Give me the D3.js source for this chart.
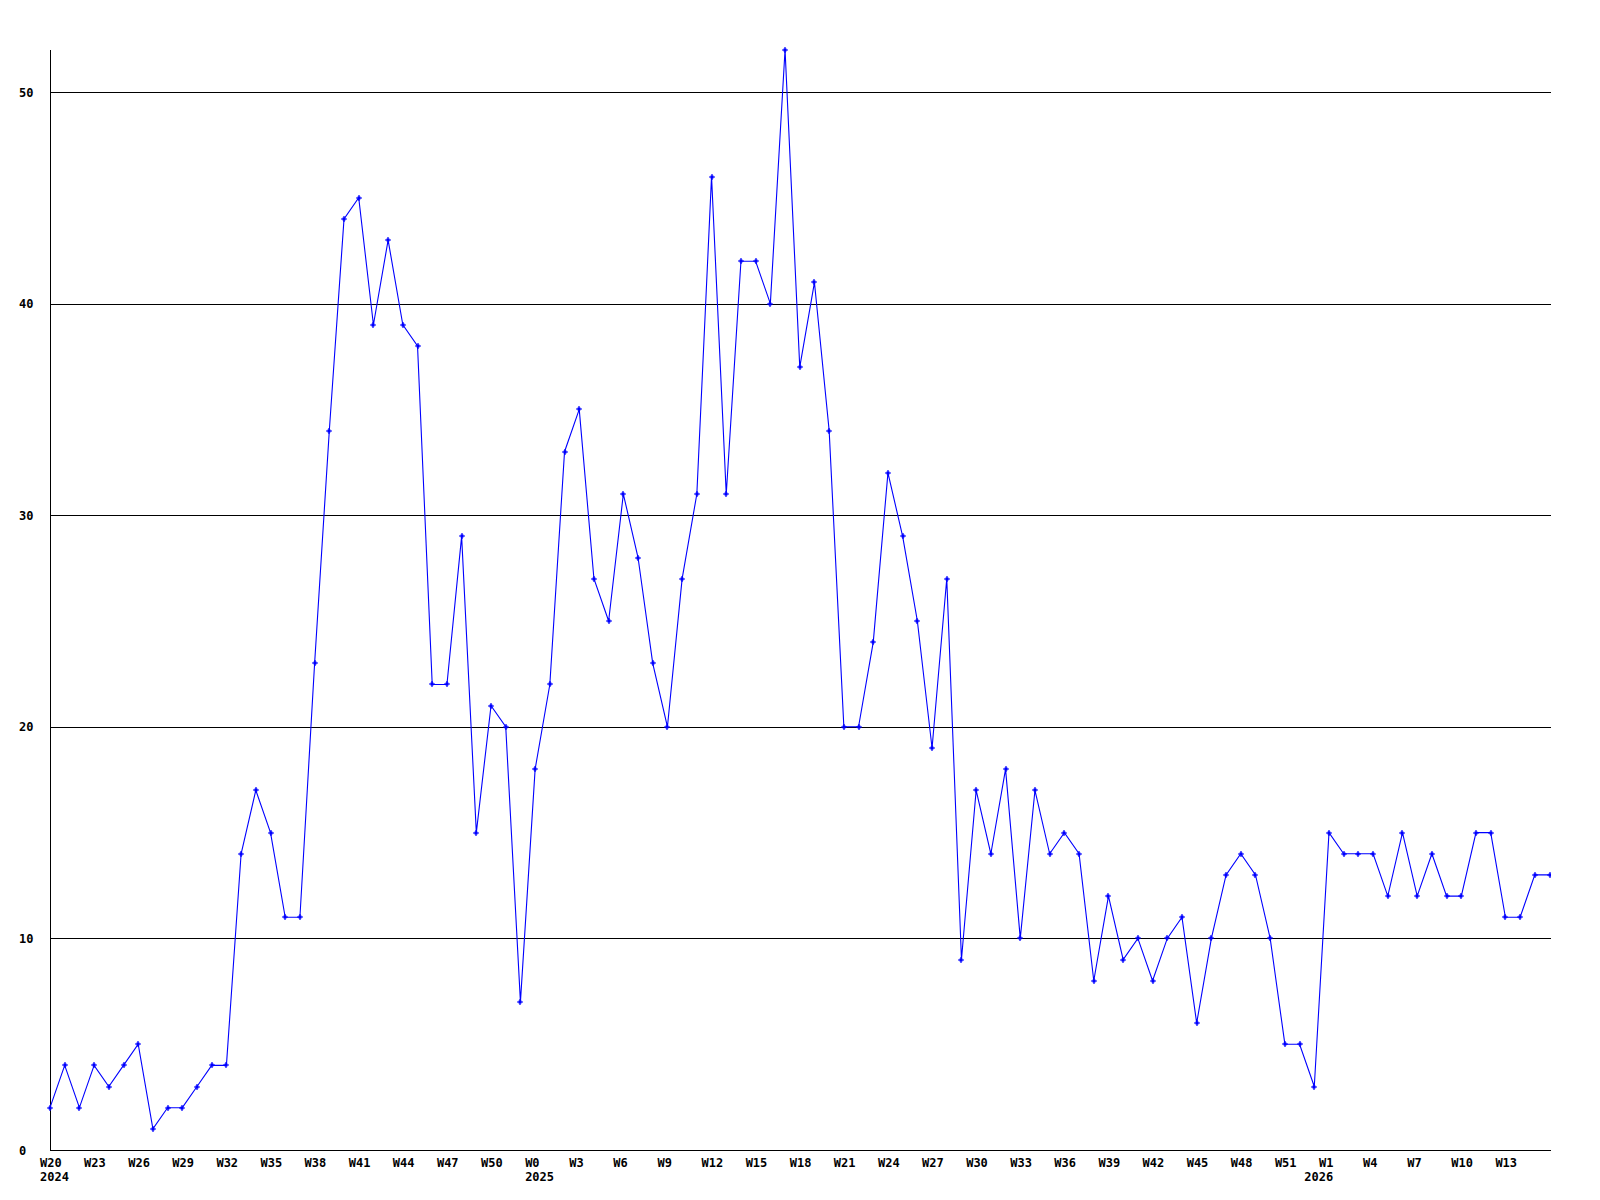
<!DOCTYPE html>
<html>
<head>
<meta charset="utf-8">
<script src="https://cdn.jsdelivr.net/npm/d3@7"></script>
<style>
  html, body { margin: 0; padding: 0; background: #fff; }
  svg { display: block; }
  text { font-family: "DejaVu Sans Mono", "Liberation Mono", monospace; font-weight: bold; font-size: 12px; fill: #000; }
</style>
</head>
<body>
<svg id="chart" width="1600" height="1200"></svg>
<script>
const weeks = [
  "2024-W20","2024-W21","2024-W22","2024-W23","2024-W24","2024-W25","2024-W26","2024-W27","2024-W28","2024-W29",
  "2024-W30","2024-W31","2024-W32","2024-W33","2024-W34","2024-W35","2024-W36","2024-W37","2024-W38","2024-W39",
  "2024-W40","2024-W41","2024-W42","2024-W43","2024-W44","2024-W45","2024-W46","2024-W47","2024-W48","2024-W49",
  "2024-W50","2024-W51","2024-W52",
  "2025-W0","2025-W1","2025-W2","2025-W3","2025-W4","2025-W5","2025-W6","2025-W7","2025-W8","2025-W9",
  "2025-W10","2025-W11","2025-W12","2025-W13","2025-W14","2025-W15","2025-W16","2025-W17","2025-W18","2025-W19",
  "2025-W20","2025-W21","2025-W22","2025-W23","2025-W24","2025-W25","2025-W26","2025-W27","2025-W28","2025-W29",
  "2025-W30","2025-W31","2025-W32","2025-W33","2025-W34","2025-W35","2025-W36","2025-W37","2025-W38","2025-W39",
  "2025-W40","2025-W41","2025-W42","2025-W43","2025-W44","2025-W45","2025-W46","2025-W47","2025-W48","2025-W49",
  "2025-W50","2025-W51","2025-W52",
  "2026-W0","2026-W1","2026-W2","2026-W3","2026-W4","2026-W5","2026-W6","2026-W7","2026-W8","2026-W9",
  "2026-W10","2026-W11","2026-W12","2026-W13","2026-W14","2026-W15","2026-W16"
];

const values = [
  2,4,2,4,3,4,5,1,2,2,
  3,4,4,14,17,15,11,11,23,34,
  44,45,39,43,39,38,22,22,29,15,
  21,20,7,18,22,33,35,27,25,31,
  28,23,20,27,31,46,31,42,42,40,
  52,37,41,34,20,20,24,32,29,25,
  19,27,9,17,14,18,10,17,14,15,
  14,8,12,9,10,8,10,11,6,10,
  13,14,13,10,5,5,3,15,14,14,
  14,12,15,12,14,12,12,15,15,11,
  11,13,13
];

const xTickWeeks = [
  "2024-W20","2024-W23","2024-W26","2024-W29","2024-W32","2024-W35","2024-W38","2024-W41","2024-W44","2024-W47","2024-W50",
  "2025-W0","2025-W3","2025-W6","2025-W9","2025-W12","2025-W15","2025-W18","2025-W21","2025-W24","2025-W27","2025-W30",
  "2025-W33","2025-W36","2025-W39","2025-W42","2025-W45","2025-W48","2025-W51",
  "2026-W1","2026-W4","2026-W7","2026-W10","2026-W13"
];

const yearLabels = ["2024", "2025", "2026"];

const yTicks = [0, 10, 20, 30, 40, 50];

const svg = d3.select("#chart");
svg.append("rect").attr("width", 1600).attr("height", 1200).attr("fill", "#fff");

const plotLeft = 50, plotRight = 1551, plotTop = 50, plotBottom = 1150;

const x = d3.scaleLinear().domain([0, weeks.length - 1]).range([50, 1549.5]);
const y = d3.scaleLinear().domain([0, 50]).range([plotBottom, 92]);

// gridlines
svg.append("g")
  .selectAll("line")
  .data(yTicks.filter(t => t > 0))
  .join("line")
  .attr("x1", plotLeft).attr("x2", plotRight)
  .attr("y1", d => Math.round(y(d)) + 0.5).attr("y2", d => Math.round(y(d)) + 0.5)
  .attr("stroke", "#000").attr("stroke-width", 1)
  .attr("shape-rendering", "crispEdges");

// axes lines
svg.append("line")
  .attr("x1", plotLeft + 0.5).attr("x2", plotLeft + 0.5)
  .attr("y1", plotTop).attr("y2", plotBottom + 1)
  .attr("stroke", "#000").attr("shape-rendering", "crispEdges");
svg.append("line")
  .attr("x1", plotLeft).attr("x2", plotRight)
  .attr("y1", plotBottom + 0.5).attr("y2", plotBottom + 0.5)
  .attr("stroke", "#000").attr("shape-rendering", "crispEdges");

// y labels
svg.append("g")
  .selectAll("text")
  .data(yTicks)
  .join("text")
  .attr("x", 19)
  .attr("y", d => y(d) + 4.5)
  .text(d => d);

// x labels
const tickData = xTickWeeks.map(w => {
  const i = weeks.indexOf(w);
  const [yr, wk] = w.split("-");
  return { i, yr, wk };
});
const gx = svg.append("g");
gx.selectAll("text.wk")
  .data(tickData)
  .join("text")
  .attr("class", "wk")
  .attr("x", d => x(d.i) - 10)
  .attr("y", 1167)
  .text(d => d.wk);

// year labels at the first week of each year in the data
const yearData = yearLabels.map(yr => ({ yr, i: weeks.findIndex(w => w.startsWith(yr + "-")) }));
gx.selectAll("text.yr")
  .data(yearData)
  .join("text")
  .attr("class", "yr")
  .attr("x", d => x(d.i) - 10)
  .attr("y", 1181)
  .text(d => d.yr);

// clip
svg.append("defs").append("clipPath").attr("id", "plotclip")
  .append("rect").attr("x", plotLeft - 5).attr("y", plotTop - 5)
  .attr("width", plotRight - plotLeft + 5).attr("height", plotBottom - plotTop + 10);

const pts = values.map((v, i) => [x(i), y(v)]);

const g = svg.append("g").attr("clip-path", "url(#plotclip)");
g.append("path")
  .attr("d", d3.line()(pts))
  .attr("fill", "none")
  .attr("stroke", "#0000ff")
  .attr("stroke-width", 1.1);

// markers: small plus with thick centre
g.append("g")
  .selectAll("path")
  .data(pts)
  .join("path")
  .attr("d", ([px, py]) => {
    const cx = Math.round(px), cy = Math.round(py);
    return `M${cx - 3},${cy}h6M${cx},${cy - 3}v6`;
  })
  .attr("stroke", "#0000ff")
  .attr("stroke-width", 1.2)
  .attr("fill", "none");
g.append("g")
  .selectAll("rect")
  .data(pts)
  .join("rect")
  .attr("x", d => Math.round(d[0]) - 1.5)
  .attr("y", d => Math.round(d[1]) - 1.5)
  .attr("width", 3).attr("height", 3)
  .attr("fill", "#0000ff");
</script>
</body>
</html>
